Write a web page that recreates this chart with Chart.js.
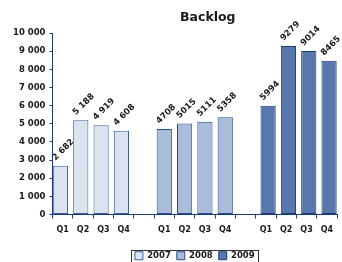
<!DOCTYPE html>
<html>
<head>
<meta charset="utf-8">
<script src="https://cdn.jsdelivr.net/npm/chart.js@4/dist/chart.umd.min.js"></script>
<style>
html, body { margin: 0; padding: 0; background: #fff; }
canvas { display: block; }
</style>
</head>
<body>
<canvas id="backlogChart" width="342" height="262"></canvas>
<script>
const chartTitle = 'Backlog'
const quarters = ['Q1', 'Q2', 'Q3', 'Q4', '', 'Q1', 'Q2', 'Q3', 'Q4', '', 'Q1', 'Q2', 'Q3', 'Q4']
const years = ['2007', '2008', '2009']
const backlog2007 = [2682, 5188, 4919, 4608]
const backlog2008 = [4708, 5015, 5111, 5358]
const backlog2009 = [5994, 9279, 9014, 8465]
const yTicks = [0, 1000, 2000, 3000, 4000, 5000, 6000, 7000, 8000, 9000, 10000]

const fills = ['#dce3f0', '#a9bcda', '#5877ad']
const edges = ['#3c5f98', '#2a4c86', '#1b3c78']
const axisColor = '#1b3c78'
const textColor = '#1a1a1a'
const fontFamily = '"DejaVu Sans", sans-serif'

// thousands with a space, like "2 682"
const spaced = v => String(v).replace(/\B(?=(\d{3})+(?!\d))/g, ' ')
// 2007 labels use a space separator, 2008/2009 don't
const labelFormat = [spaced, v => String(v), v => String(v)]

// each year sits in its own block of the 14 slots
function placeYear(values, start) {
    const out = quarters.map(() => null)
    values.forEach((v, i) => { out[start + i] = v })
    return out
}

const datasets = [backlog2007, backlog2008, backlog2009].map((vals, i) => ({
    label: years[i],
    data: placeYear(vals, i * 5),
    backgroundColor: fills[i],
    borderColor: edges[i],
    borderWidth: 1,
    borderSkipped: false
}))

const barLabels = {
    id: 'barLabels',
    afterDatasetsDraw(chart) {
        const ctx = chart.ctx
        ctx.save()
        ctx.fillStyle = textColor
        ctx.font = 'bold 8.5px ' + fontFamily
        ctx.textAlign = 'left'
        ctx.textBaseline = 'alphabetic'
        chart.data.datasets.forEach((ds, di) => {
            chart.getDatasetMeta(di).data.forEach((bar, i) => {
                const v = ds.data[i]
                if (v == null) return
                ctx.save()
                ctx.translate(bar.x - 5, bar.y - 5)
                ctx.rotate(-Math.PI / 4)
                ctx.fillText(labelFormat[di](v), 0, 0)
                ctx.restore()
            })
        })
        ctx.restore()
    }
}

// title sits a little right of the plot centre in the original
const titleAndLegendBox = {
    id: 'titleAndLegendBox',
    afterDraw(chart) {
        const ctx = chart.ctx
        const area = chart.chartArea
        ctx.save()
        ctx.fillStyle = textColor
        ctx.font = 'bold 12.5px ' + fontFamily
        ctx.textAlign = 'center'
        ctx.textBaseline = 'middle'
        ctx.fillText(chartTitle, (area.left + area.right) / 2 + 13, 18)

        const boxes = chart.legend.legendHitBoxes
        if (boxes && boxes.length) {
            const first = boxes[0]
            const last = boxes[boxes.length - 1]
            ctx.strokeStyle = '#333'
            ctx.lineWidth = 1
            const left = Math.round(first.left) - 3.5
            const top = Math.round(first.top) - 1.5
            ctx.strokeRect(left, top, Math.round(last.left + last.width - first.left) + 7, 20)
        }
        ctx.restore()
    }
}

new Chart(document.getElementById('backlogChart'), {
    type: 'bar',
    data: { labels: quarters, datasets },
    plugins: [barLabels, titleAndLegendBox],
    options: {
        responsive: false,
        animation: false,
        devicePixelRatio: 1,
        // three narrow group slots but wide bars: nudges 2007 left and 2009 right like the original
        categoryPercentage: 0.33,
        barPercentage: 6.8,
        layout: { padding: { left: 9, right: 5, top: 33, bottom: -8 } },
        plugins: {
            title: { display: false },
            legend: {
                position: 'bottom',
                fullSize: false,
                labels: {
                    color: textColor,
                    boxWidth: 8,
                    boxHeight: 8,
                    padding: 6,
                    font: { family: fontFamily, size: 8.5, weight: 'bold' }
                }
            },
            tooltip: { enabled: false }
        },
        scales: {
            x: {
                afterFit: s => { s.height = 31 },
                grid: { offset: true, drawOnChartArea: false, tickLength: 4, color: axisColor },
                border: { color: axisColor },
                ticks: {
                    color: textColor,
                    padding: 7,
                    maxRotation: 0,
                    autoSkip: false,
                    font: { family: fontFamily, size: 8, weight: 'bold' }
                }
            },
            y: {
                min: yTicks[0],
                max: yTicks[yTicks.length - 1],
                afterBuildTicks: s => { s.ticks = yTicks.map(v => ({ value: v })) },
                grid: { drawOnChartArea: false, tickLength: 3, color: axisColor },
                border: { color: axisColor },
                ticks: {
                    color: textColor,
                    padding: 4,
                    callback: v => spaced(v),
                    font: { family: fontFamily, size: 8.5, weight: 'bold' }
                }
            }
        }
    }
})
</script>
</body>
</html>
